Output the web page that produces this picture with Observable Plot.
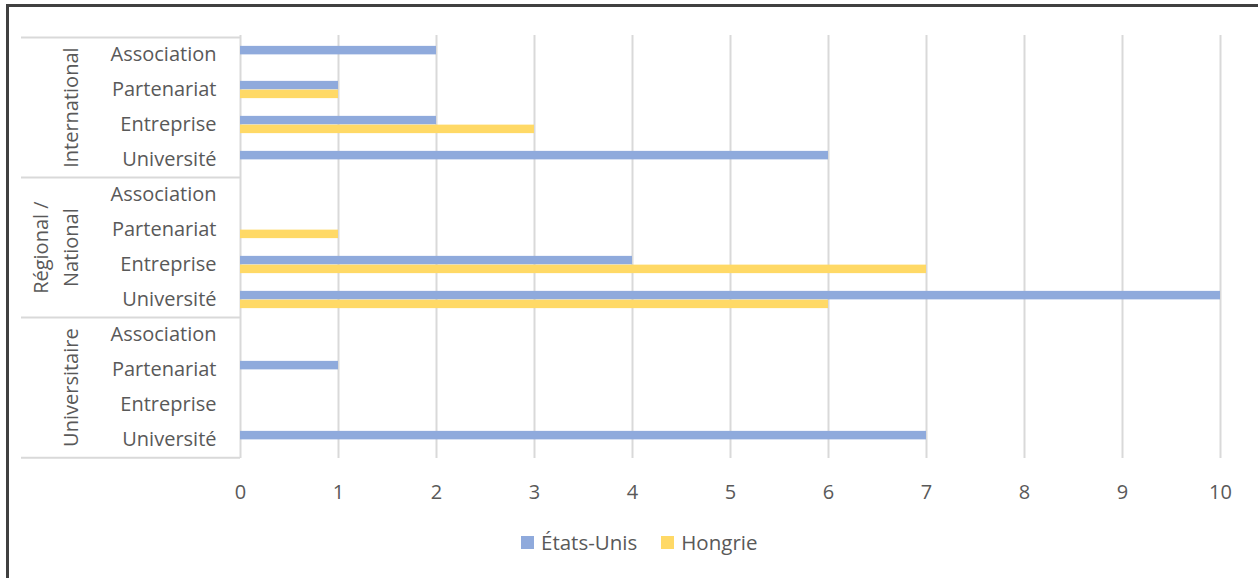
<!DOCTYPE html>
<html>
<head>
<meta charset="utf-8">
<script src="https://cdn.jsdelivr.net/npm/d3@7"></script>
<script src="https://cdn.jsdelivr.net/npm/@observablehq/plot@0.6"></script>
<style>
  html, body { margin: 0; padding: 0; background: #fff; overflow: hidden; width: 1258px; height: 578px; }
  #frame { position: absolute; left: 6px; top: 4px; width: 1300px; height: 700px; border: 3px solid #404040; box-sizing: border-box; }
  #chart { position: absolute; left: 0; top: 0; }
  #legend { position: absolute; left: 521px; top: 528px; display: flex; gap: 24px; font-family: "Open Sans", sans-serif; font-size: 20.5px; color: #595959; }
  #legend .item { display: flex; align-items: center; gap: 7px; }
  #legend .sw { width: 13px; height: 13px; display: inline-block; }
</style>
</head>
<body>
<div id="frame"></div>
<div id="chart"></div>
<div id="legend"></div>
<script>
const groups = ["International", "Régional / National", "Universitaire"];
const groupLabels = ["International", "Régional /\nNational", "Universitaire"];
const categories = ["Association", "Partenariat", "Entreprise", "Université"];
const series = ["États-Unis", "Hongrie"];
const seriesColors = ["#8FAADC", "#FFD966"];
// values listed group by group, categories in the order above
const usValues = [2, 1, 2, 6,   0, 0, 4, 10,   0, 1, 0, 7];
const huValues = [0, 1, 3, 0,   0, 1, 7, 6,    0, 0, 0, 0];
const xTicks = [0, 1, 2, 3, 4, 5, 6, 7, 8, 9, 10];

const rows = [];
groups.forEach((g, gi) => categories.forEach((c, ci) => {
  const i = gi * categories.length + ci;
  rows.push({key: g + "|" + c, group: g, category: c, us: usValues[i], hu: huValues[i]});
}));
const keys = rows.map(d => d.key);

const W = 1258, H = 510, mt = 35, mb = 52, ml = 240, mr = 38;
const step = (H - mt - mb) / keys.length;
const barH = 8.75;

const groupMid = groups.map((g, gi) => ({key: keys[gi * 4 + 1], label: groupLabels[gi], multi: groupLabels[gi].includes("\n")}));
const singleLine = groupMid.filter(d => !d.multi);
const multiLine = groupMid.filter(d => d.multi);
const firstKeys = groups.map((g, gi) => ({key: keys[gi * 4]}));
const lastKey = [{key: keys[keys.length - 1]}];

const labelOpts = {y: "key", text: "label", dy: step / 2, frameAnchor: "left", rotate: -90, lineAnchor: "middle", textAnchor: "middle", lineHeight: 1.5, fill: "#595959", fontSize: 20};

const chart = Plot.plot({
  width: W, height: H,
  marginLeft: ml, marginRight: mr, marginTop: mt, marginBottom: mb,
  style: {fontFamily: "Open Sans", fontSize: "20px", color: "#595959", background: "transparent", overflow: "visible"},
  x: {domain: [0, 10], ticks: xTicks, tickSize: 0, tickPadding: 26, label: null},
  y: {domain: keys, padding: 0, tickSize: 0, tickPadding: 24, tickFormat: k => k.split("|")[1], label: null},
  marks: [
    Plot.gridX(xTicks, {stroke: "#d9d9d9", strokeWidth: 2, strokeOpacity: 1}),
    Plot.barX(rows, {y: "key", x: "us", fill: seriesColors[0], insetTop: step / 2 - barH, insetBottom: step / 2}),
    Plot.barX(rows, {y: "key", x: "hu", fill: seriesColors[1], insetTop: step / 2, insetBottom: step / 2 - barH}),
    Plot.ruleY(firstKeys, {y: "key", dy: -step / 2, stroke: "#d9d9d9", strokeWidth: 2, insetLeft: -(ml - 21), insetRight: 980}),
    Plot.ruleY(lastKey, {y: "key", dy: step / 2, stroke: "#d9d9d9", strokeWidth: 2, insetLeft: -(ml - 21), insetRight: 980}),
    Plot.text(singleLine, {...labelOpts, dx: -172}),
    Plot.text(multiLine, {...labelOpts, dx: -187})
  ]
});
document.getElementById("chart").appendChild(chart);

const legend = document.getElementById("legend");
series.forEach((s, i) => {
  const item = document.createElement("span");
  item.className = "item";
  const sw = document.createElement("span");
  sw.className = "sw";
  sw.style.background = seriesColors[i];
  const t = document.createElement("span");
  t.textContent = s;
  item.appendChild(sw); item.appendChild(t);
  legend.appendChild(item);
});
</script>
</body>
</html>
